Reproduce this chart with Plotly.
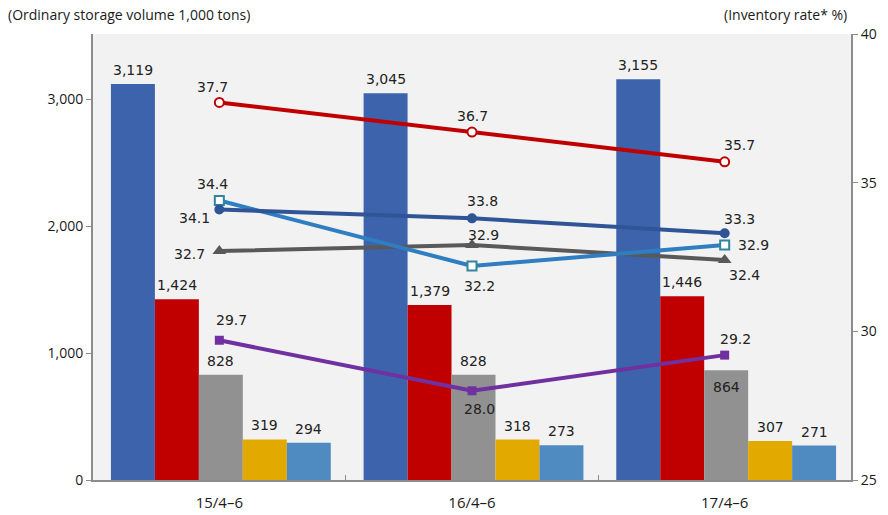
import plotly.graph_objects as go

categories = ["15/4–6", "16/4–6", "17/4–6"]

bar_names = ["Blue", "Red", "Gray", "Yellow", "LightBlue"]
bar_values = [
    [3119, 3045, 3155],
    [1424, 1379, 1446],
    [828, 828, 864],
    [319, 318, 307],
    [294, 273, 271],
]
bar_colors = ["#3C63AC", "#C00000", "#919191", "#E2AA00", "#4F8BC0"]
# label placement: 1 = above bar, -1 = inside near top
bar_label_side = [
    [1, 1, 1],
    [1, 1, 1],
    [1, 1, -1],
    [1, 1, 1],
    [1, 1, 1],
]

line_keys = ["gray", "lightblue", "darkblue", "purple", "red"]
line_values = {
    "red": [37.7, 36.7, 35.7],
    "darkblue": [34.1, 33.8, 33.3],
    "lightblue": [34.4, 32.2, 32.9],
    "gray": [32.7, 32.9, 32.4],
    "purple": [29.7, 28.0, 29.2],
}
# label offsets (pixels) relative to markers
line_label_shift = {
    "red": [(-7, 15), (0, 16), (15, 17)],
    "darkblue": [(-25, -9), (10, 17), (15, 14)],
    "lightblue": [(-7, 17), (7, -20), (29, 0)],
    "gray": [(-30, -3), (11, 10), (20, -15)],
    "purple": [(12, 20), (7, -18), (11, 16)],
}
line_styles = {
    "red": dict(color="#C00000", marker=dict(symbol="circle", size=9, color="white", line=dict(color="#C00000", width=2))),
    "darkblue": dict(color="#2F5597", marker=dict(symbol="circle", size=10, color="#2F5597")),
    "lightblue": dict(color="#2E7EC1", marker=dict(symbol="square", size=9, color="white", line=dict(color="#31859C", width=2))),
    "gray": dict(color="#595959", marker=dict(symbol="triangle-up", size=12, color="#595959")),
    "purple": dict(color="#7030A0", marker=dict(symbol="square", size=9, color="#7030A0")),
}

n_bars = len(bar_values)
group_w = 0.87
bw = group_w / n_bars
group_shift = 0.006

fig = go.Figure()
annotations = []
label_color = "#222222"

for k, (name, vals, col) in enumerate(zip(bar_names, bar_values, bar_colors)):
    off = -group_w / 2 + k * bw + group_shift
    fig.add_trace(go.Bar(
        x=categories, y=vals, name=name, marker=dict(color=col, line=dict(width=0)),
        width=bw, offset=off, yaxis="y",
    ))
    for i, v in enumerate(vals):
        side = bar_label_side[k][i]
        annotations.append(dict(
            x=i + off + bw / 2, y=v, xref="x", yref="y", text=f"{v:,}", showarrow=False,
            yanchor="middle", yshift=14 if side > 0 else -17,
            font=dict(family="DejaVu Sans", size=14, color=label_color),
        ))

for key in line_keys:
    st = line_styles[key]
    vals = line_values[key]
    fig.add_trace(go.Scatter(
        x=categories, y=vals, mode="lines+markers",
        line=dict(color=st["color"], width=4), marker=st["marker"],
        yaxis="y2", cliponaxis=False, showlegend=False,
    ))
    for i, v in enumerate(vals):
        dx, dy = line_label_shift[key][i]
        annotations.append(dict(
            x=i, y=v, xref="x", yref="y2", text=f"{v:.1f}", showarrow=False,
            xshift=dx, yshift=dy, xanchor="center", yanchor="middle",
            font=dict(family="DejaVu Sans", size=14, color=label_color),
        ))

annotations += [
    dict(text="(Ordinary storage volume 1,000 tons)", x=0, y=1, xref="paper", yref="paper",
         xanchor="left", yanchor="top", xshift=-87, yshift=31, showarrow=False,
         font=dict(size=14, family="Open Sans", color="#1a1a1a")),
    dict(text="(Inventory rate* %)", x=1, y=1, xref="paper", yref="paper",
         xanchor="right", yanchor="top", xshift=-2, yshift=31, showarrow=False,
         font=dict(size=14, family="Open Sans", color="#1a1a1a")),
]

fig.update_layout(
    width=888, height=515,
    margin=dict(l=93, r=37, t=34, b=35),
    paper_bgcolor="white", plot_bgcolor="#F2F2F2",
    barmode="overlay",
    showlegend=False,
    font=dict(family="Open Sans", size=14, color="#1a1a1a"),
    xaxis=dict(
        type="category", showline=True, linecolor="#8C8C8C", linewidth=2,
        ticks="inside", tickson="boundaries", ticklen=5, tickcolor="#8C8C8C",
        showgrid=False, tickfont=dict(size=15, family="Open Sans"), ticklabelstandoff=8,
        range=[-0.5, 2.5], automargin=False,
    ),
    yaxis=dict(
        range=[0, 3512], dtick=1000, tickformat=",d", showgrid=False, zeroline=False,
        showline=True, linecolor="#8C8C8C", linewidth=2, ticks="outside", ticklen=5,
        tickcolor="#8C8C8C", tickfont=dict(size=14, family="Open Sans"), automargin=False,
    ),
    yaxis2=dict(
        range=[25, 40], dtick=5, overlaying="y", side="right", showgrid=False,
        zeroline=False, showline=True, linecolor="#8C8C8C", linewidth=2,
        ticks="outside", ticklen=5, tickcolor="#8C8C8C",
        tickfont=dict(size=14, family="Open Sans"), automargin=False,
    ),
    annotations=annotations,
)

fig.write_html("out.html")
